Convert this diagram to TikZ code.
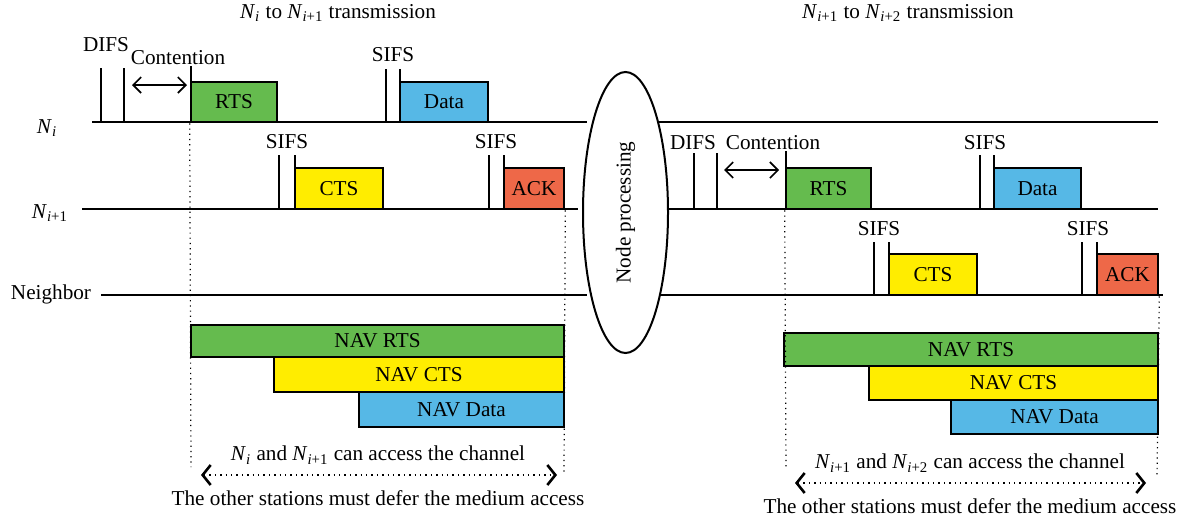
\documentclass[tikz,border=0pt]{standalone}
\usepackage{fontspec}
\setmainfont{Liberation Serif}
\usetikzlibrary{arrows.meta,shapes.geometric,fit}
\definecolor{rtsgreen}{RGB}{101,187,78}
\definecolor{ctsyellow}{RGB}{255,237,0}
\definecolor{datablue}{RGB}{86,184,230}
\definecolor{ackred}{RGB}{238,104,72}
\newcommand{\Nd}[1]{\textit{N}\textsubscript{#1}}

\begin{document}
\begin{tikzpicture}[x=0.5pt, y=-0.5pt, font=\fontsize{10.6}{12}\selectfont,
    line/.style={line width=1.4pt},
    tick/.style={line width=1.1pt},
    box/.style={draw, line width=1.3pt, inner sep=0pt, label=center:{#1}},
    guide/.style={dotted, line width=0.6pt},
    contend/.style={line width=0.8pt, {Straight Barb[length=4pt,width=8pt]}-{Straight Barb[length=4pt,width=8pt]}},
    span/.style={dotted, line width=0.7pt, {Straight Barb[length=4pt,width=10pt,line width=1.3pt]}-{Straight Barb[length=4pt,width=10pt,line width=1.3pt]}}]
  \useasboundingbox (0,0) rectangle (1178,520);

  % titles
  \node (titleA) at (338,13) {\Nd{\textit{i}} to \Nd{\textit{i}+1} transmission};
  \node (titleB) at (908,13) {\Nd{\textit{i}+1} to \Nd{\textit{i}+2} transmission};

  % station lines
  \node (labNi)  at (47,128) {\Nd{\textit{i}}};
  \node (labNj)  at (50,213) {\Nd{\textit{i}+1}};
  \node (labNb)  at (51,294) {Neighbor};
  \coordinate (niA) at (92,122);   \coordinate (niB) at (587,122);
  \coordinate (njA) at (82,209);   \coordinate (njB) at (578,209);
  \coordinate (nbA) at (101,295);  \coordinate (nbB) at (587,295);
  \coordinate (niC) at (658,122);  \coordinate (niD) at (1158,122);
  \coordinate (njC) at (669,209);  \coordinate (njD) at (1158,209);
  \coordinate (nbC) at (659,295);  \coordinate (nbD) at (1163,295);
  \draw[line] (niA) -- (niB);  \draw[line] (niC) -- (niD);
  \draw[line] (njA) -- (njB);  \draw[line] (njC) -- (njD);
  \draw[line] (nbA) -- (nbB);  \draw[line] (nbC) -- (nbD);

  % node processing
  \node[draw, ellipse, line width=1pt, minimum width=140.5pt, minimum height=42.5pt, rotate=90] (proc) at (625.5,212.5) {Node processing};

  % ---- first exchange ----
  \draw[tick] (101,68) -- (101,122);
  \draw[tick] (124,68) -- (124,122);
  \draw[tick] (191,66) -- (191,122);
  \node (difsA) at (106,45) {DIFS};
  \node (contA) at (178,58) {Contention};
  \coordinate (cA1) at (132,85); \coordinate (cA2) at (187,85);
  \draw[contend] (cA1) -- (cA2);
  \node[box=RTS, fill=rtsgreen, fit={(191,82) (277,122)}] (rtsA) {};

  \draw[tick] (386,69) -- (386,122);
  \draw[tick] (400,69) -- (400,122);
  \node (sifsA1) at (393,55) {SIFS};
  \node[box=Data, fill=datablue, fit={(400,82) (488,122)}] (dataA) {};

  \draw[tick] (279,155) -- (279,209);
  \draw[tick] (295,155) -- (295,209);
  \node (sifsA2) at (287,142) {SIFS};
  \node[box=CTS, fill=ctsyellow, fit={(295,168) (383,209)}] (ctsA) {};

  \draw[tick] (489,155) -- (489,209);
  \draw[tick] (504,155) -- (504,209);
  \node (sifsA3) at (496,142) {SIFS};
  \node[box=ACK, fill=ackred, fit={(504,168) (564,209)}] (ackA) {};

  \node[box=NAV RTS, fill=rtsgreen, fit={(191,325) (564,357)}] (navrtsA) {};
  \node[box=NAV CTS, fill=ctsyellow, fit={(274,357) (564,392)}] (navctsA) {};
  \node[box=NAV Data, fill=datablue, fit={(359,392) (564,427)}] (navdataA) {};

  \coordinate (gA1) at (191,467); \coordinate (gA2) at (564,472);
  \draw[guide] (rtsA.south west) -- (gA1);
  \draw[guide] (ackA.south east) -- (gA2);
  \node (accA) at (378,455) {\Nd{\textit{i}} and \Nd{\textit{i}+1} can access the channel};
  \coordinate (sA1) at (201,475); \coordinate (sA2) at (557,475);
  \draw[span] (sA1) -- (sA2);
  \node (deferA) at (378,498) {The other stations must defer the medium access};

  % ---- second exchange ----
  \draw[tick] (694,153) -- (694,209);
  \draw[tick] (717,153) -- (717,209);
  \draw[tick] (786,151) -- (786,209);
  \node (difsB) at (693,143) {DIFS};
  \node (contB) at (773,143) {Contention};
  \coordinate (cB1) at (724,170); \coordinate (cB2) at (779,170);
  \draw[contend] (cB1) -- (cB2);
  \node[box=RTS, fill=rtsgreen, fit={(786,168) (871,209)}] (rtsB) {};

  \draw[tick] (980,155) -- (980,209);
  \draw[tick] (994,155) -- (994,209);
  \node (sifsB1) at (985,143) {SIFS};
  \node[box=Data, fill=datablue, fit={(994,168) (1081,209)}] (dataB) {};

  \draw[tick] (874,242) -- (874,295);
  \draw[tick] (889,242) -- (889,295);
  \node (sifsB2) at (879,229) {SIFS};
  \node[box=CTS, fill=ctsyellow, fit={(889,254) (977,295)}] (ctsB) {};

  \draw[tick] (1082,242) -- (1082,295);
  \draw[tick] (1097,242) -- (1097,295);
  \node (sifsB3) at (1088,229) {SIFS};
  \node[box=ACK, fill=ackred, fit={(1097,254) (1158,295)}] (ackB) {};

  \node[box=NAV RTS, fill=rtsgreen, fit={(784,333) (1158,366)}] (navrtsB) {};
  \node[box=NAV CTS, fill=ctsyellow, fit={(869,366) (1158,400)}] (navctsB) {};
  \node[box=NAV Data, fill=datablue, fit={(951,400) (1158,434)}] (navdataB) {};

  \coordinate (gB1) at (786,470); \coordinate (gB2) at (1157,478);
  \draw[guide] (rtsB.south west) -- (gB1);
  \draw[guide] (ackB.south east) -- (gB2);
  \node (accB) at (970,463) {\Nd{\textit{i}+1} and \Nd{\textit{i}+2} can access the channel};
  \coordinate (sB1) at (795,483); \coordinate (sB2) at (1146,483);
  \draw[span] (sB1) -- (sB2);
  \node (deferB) at (970,506) {The other stations must defer the medium access};
\end{tikzpicture}
\end{document}
